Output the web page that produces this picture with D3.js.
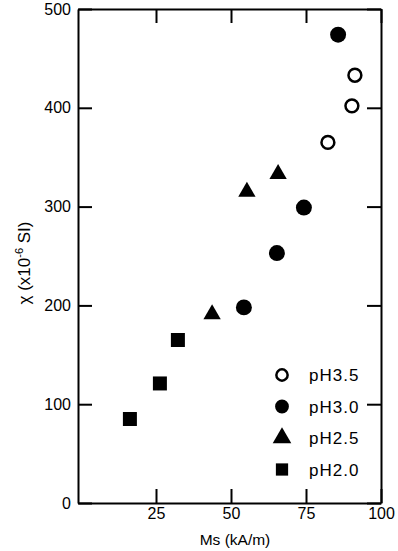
<!DOCTYPE html>
<html>
<head>
<meta charset="utf-8">
<script src="https://cdn.jsdelivr.net/npm/d3@7"></script>
<style>
  body { margin: 0; background: #fff; }
  svg { font-family: "Liberation Sans", Arial, sans-serif; }
</style>
</head>
<body>
<svg id="chart"></svg>
<script>
// values
const seriesNames = ["pH3.5", "pH3.0", "pH2.5", "pH2.0"];
const ph35 = [[91.3, 433], [90.3, 402], [82.3, 365]];
const ph30 = [[85.7, 474], [74.3, 299], [65.3, 253], [54.3, 198]];
const ph25 = [[65.7, 333], [55.3, 315], [43.7, 191]];
const ph20 = [[32.3, 165], [26.3, 121], [16.3, 85]];
const xTicks = [25, 50, 75, 100];
const yTicks = [0, 100, 200, 300, 400, 500];

const width = 398, height = 551;
const margin = { top: 9, right: 17, bottom: 48, left: 78 };

const svg = d3.select("#chart")
  .attr("width", width)
  .attr("height", height);

const x = d3.scaleLinear().domain([-1, 100]).range([margin.left, width - margin.right]);
const y = d3.scaleLinear().domain([0, 500]).range([height - margin.bottom, margin.top]);

const tickLen = 14;

function styleAxis(g) {
  g.selectAll("path.domain").attr("stroke", "#000").attr("stroke-width", 2);
  g.selectAll(".tick line").attr("stroke", "#000").attr("stroke-width", 2);
  g.selectAll(".tick text").attr("fill", "#000").style("font-size", "16px");
}

// bottom
svg.append("g")
  .attr("transform", "translate(0," + y(0) + ")")
  .call(d3.axisBottom(x).tickValues(xTicks).tickSizeInner(-tickLen).tickSizeOuter(0).tickPadding(5))
  .call(styleAxis);
// top
svg.append("g")
  .attr("transform", "translate(0," + y(500) + ")")
  .call(d3.axisTop(x).tickValues(xTicks).tickSizeInner(-tickLen).tickSizeOuter(0).tickFormat(""))
  .call(styleAxis);
// left
svg.append("g")
  .attr("transform", "translate(" + x(-1) + ",0)")
  .call(d3.axisLeft(y).tickValues(yTicks).tickSizeInner(-tickLen).tickSizeOuter(0).tickPadding(7))
  .call(styleAxis);
// right
svg.append("g")
  .attr("transform", "translate(" + x(100) + ",0)")
  .call(d3.axisRight(y).tickValues(yTicks).tickSizeInner(-tickLen).tickSizeOuter(0).tickFormat(""))
  .call(styleAxis);

// axis titles
svg.append("text")
  .attr("x", 235)
  .attr("y", 545)
  .attr("text-anchor", "middle")
  .style("font-size", "15.5px")
  .text("Ms (kA/m)");

const yt = svg.append("text")
  .attr("transform", "translate(30,263) rotate(-90)")
  .attr("text-anchor", "middle")
  .style("font-size", "17px");
yt.append("tspan").text("χ (x10");
yt.append("tspan").attr("dy", -7).style("font-size", "11px").text("-6");
yt.append("tspan").attr("dy", 7).text(" SI)");

// markers
const shapes = {
  "pH3.5": { type: d3.symbolCircle, fill: "#fff", stroke: "#000" },
  "pH3.0": { type: d3.symbolCircle, fill: "#000", stroke: "none" },
  "pH2.5": { type: d3.symbolTriangle, fill: "#000", stroke: "none" },
  "pH2.0": { type: d3.symbolSquare, fill: "#000", stroke: "none" }
};
const sizes = { "pH3.5": 130, "pH3.0": 200, "pH2.5": 130, "pH2.0": 196 };

function drawSeries(name, pts) {
  const s = shapes[name];
  svg.append("g").selectAll("path")
    .data(pts)
    .enter().append("path")
    .attr("d", d3.symbol().type(s.type).size(sizes[name]))
    .attr("transform", d => "translate(" + x(d[0]) + "," + y(d[1]) + ")")
    .attr("fill", s.fill)
    .attr("stroke", s.stroke)
    .attr("stroke-width", 2.5);
}
drawSeries("pH3.5", ph35);
drawSeries("pH3.0", ph30);
drawSeries("pH2.5", ph25);
drawSeries("pH2.0", ph20);

// legend
const legend = svg.append("g").attr("transform", "translate(282,375)");
seriesNames.forEach((name, i) => {
  const s = shapes[name];
  const row = legend.append("g").attr("transform", "translate(0," + (i * 31.5) + ")");
  row.append("path")
    .attr("d", d3.symbol().type(s.type).size(name === "pH3.5" ? 100 : 150)())
    .attr("fill", s.fill)
    .attr("stroke", s.stroke)
    .attr("stroke-width", 2.5);
  row.append("text")
    .attr("x", 27)
    .attr("dy", "0.36em")
    .style("font-size", "17px")
    .style("letter-spacing", "1px")
    .text(name);
});
</script>
</body>
</html>
